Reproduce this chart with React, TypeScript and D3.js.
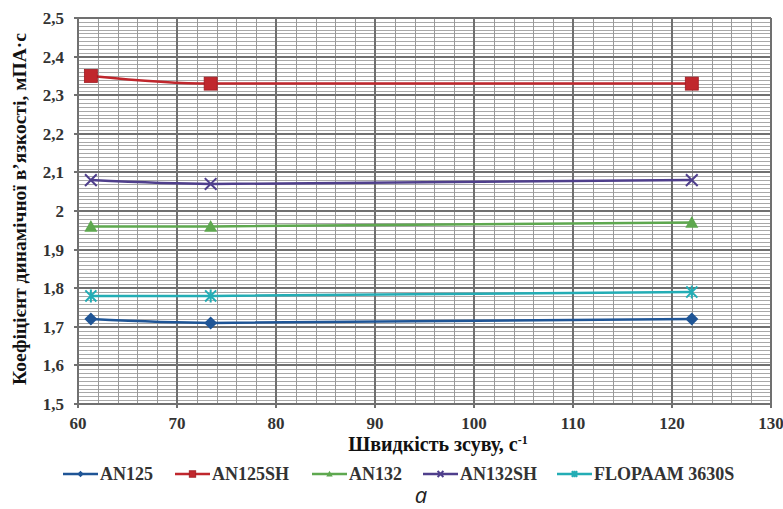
import React from "react";
import * as d3 from "d3";

const shearRates = [61.3, 73.4, 122];
const seriesNames = ["AN125", "AN125SH", "AN132", "AN132SH", "FLOPAAM 3630S"];
const an125 = [1.72, 1.71, 1.72];
const an125sh = [2.35, 2.33, 2.33];
const an132 = [1.96, 1.96, 1.97];
const an132sh = [2.08, 2.07, 2.08];
const flopaam = [1.78, 1.78, 1.79];
const xTicks = [60, 70, 80, 90, 100, 110, 120, 130];
const yTicks = [1.5, 1.6, 1.7, 1.8, 1.9, 2.0, 2.1, 2.2, 2.3, 2.4, 2.5];
const colors = ["#1f5596", "#c0272d", "#5ea84f", "#4f3f8c", "#23adb5"];
const markers = ["diamond", "square", "triangle", "x", "star"];

const W = 783, H = 509;
const M = { left: 78, right: 771, top: 18, bottom: 404 };

function Marker({ type, x, y, color, s = 1 }: { type: string; x: number; y: number; color: string; s?: number }) {
  const r = 6.5 * s;
  if (type === "diamond") {
    return <path d={`M${x},${y - r}L${x + r},${y}L${x},${y + r}L${x - r},${y}Z`} fill={color} />;
  }
  if (type === "square") {
    return <rect x={x - r} y={y - r} width={2 * r} height={2 * r} fill={color} stroke="#9e1b22" strokeWidth={0.8} />;
  }
  if (type === "triangle") {
    return <path d={`M${x},${y - r}L${x + r},${y + r * 0.8}L${x - r},${y + r * 0.8}Z`} fill={color} />;
  }
  if (type === "x") {
    const q = r * 0.9;
    return <path d={`M${x - q},${y - q}L${x + q},${y + q}M${x - q},${y + q}L${x + q},${y - q}`} stroke={color} strokeWidth={2} />;
  }
  const q = r * 0.85;
  return (
    <path
      d={`M${x - q},${y - q}L${x + q},${y + q}M${x - q},${y + q}L${x + q},${y - q}M${x},${y - r}L${x},${y + r}`}
      stroke={color}
      strokeWidth={2}
    />
  );
}

export default function App() {
  const x = d3.scaleLinear().domain([60, 130]).range([M.left, M.right]);
  const y = d3.scaleLinear().domain([1.5, 2.5]).range([M.bottom, M.top]);
  const data = [an125, an125sh, an132, an132sh, flopaam];
  const line = d3
    .line<[number, number]>()
    .x((d) => x(d[0]))
    .y((d) => y(d[1]))
    .curve(d3.curveMonotoneX);

  const minorX = d3.range(60, 130.001, 2);
  const minorY = d3.range(0, 101).map((i) => 1.5 + i * 0.01);
  const fmt = (v: number) => (Math.abs(v - 2) < 1e-9 ? "2" : v.toFixed(1).replace(".", ","));
  const font = "Liberation Serif";
  const ts = { fontFamily: font, fontWeight: 700 } as React.CSSProperties;

  const legendX = [63, 175, 312, 423, 557];

  return (
    <svg width={W} height={H} style={{ position: "absolute", left: 0, top: 0, background: "#fff" }}>
      <rect x={0} y={0} width={W} height={H} fill="#fff" />
      <g shapeRendering="crispEdges">
        {minorY.map((v, i) => (
          <line key={"my" + i} x1={M.left} x2={M.right} y1={Math.round(y(v)) + 0.5} y2={Math.round(y(v)) + 0.5} stroke="#a8a8a8" strokeWidth={1} />
        ))}
        {minorX.map((v, i) => (
          <line key={"mx" + i} x1={Math.round(x(v)) + 0.5} x2={Math.round(x(v)) + 0.5} y1={M.top} y2={M.bottom} stroke="#999999" strokeWidth={1} />
        ))}
        {yTicks.map((v, i) => (
          <line key={"gy" + i} x1={M.left - 4} x2={M.right} y1={Math.round(y(v))} y2={Math.round(y(v))} stroke="#707070" strokeWidth={2} />
        ))}
        {xTicks.map((v, i) => (
          <line key={"gx" + i} x1={Math.round(x(v))} x2={Math.round(x(v))} y1={M.top} y2={M.bottom + 4} stroke="#707070" strokeWidth={2} />
        ))}
      </g>
      {data.map((vals, si) => {
        const pts = vals.map((v, i) => [shearRates[i], v] as [number, number]);
        return (
          <g key={"s" + si}>
            <path d={line(pts) || ""} fill="none" stroke={colors[si]} strokeWidth={2.5} />
            {pts.map((p, i) => (
              <Marker key={i} type={markers[si]} x={x(p[0])} y={y(p[1])} color={colors[si]} />
            ))}
          </g>
        );
      })}
      {yTicks.map((v, i) => (
        <text key={"ty" + i} x={64} y={y(v)} dy="0.35em" textAnchor="end" style={ts} fontSize={17} fill="#333">
          {fmt(v)}
        </text>
      ))}
      {xTicks.map((v, i) => (
        <text key={"tx" + i} x={x(v)} y={423} dy="0.35em" textAnchor="middle" style={ts} fontSize={17} fill="#333">
          {v}
        </text>
      ))}
      <text
        transform={`translate(26,${(30 + 388) / 2}) rotate(-90)`}
        textAnchor="middle"
        style={ts}
        fontSize={19.5}
        fill="#111"
      >
        Коефіцієнт динамічної в’язкості, мПА·с
      </text>
      <text x={438} y={451} textAnchor="middle" style={ts} fontSize={20} fill="#111">
        Швидкість зсуву, с<tspan dy={-7} fontSize={12}>-1</tspan>
      </text>
      {seriesNames.map((name, si) => {
        const lx = legendX[si];
        const ly = 474;
        return (
          <g key={"l" + si}>
            <line x1={lx} x2={lx + 35} y1={ly} y2={ly} stroke={colors[si]} strokeWidth={2.5} />
            <Marker type={markers[si]} x={lx + 17.5} y={ly} color={colors[si]} s={0.5} />
            <text x={lx + 37} y={ly} dy="0.35em" style={ts} fontSize={18} fill="#333">
              {name}
            </text>
          </g>
        );
      })}
      <text x={421} y={503} textAnchor="middle" fontFamily="Open Sans" fontStyle="italic" fontSize={22} fill="#222">
        a
      </text>
    </svg>
  );
}
